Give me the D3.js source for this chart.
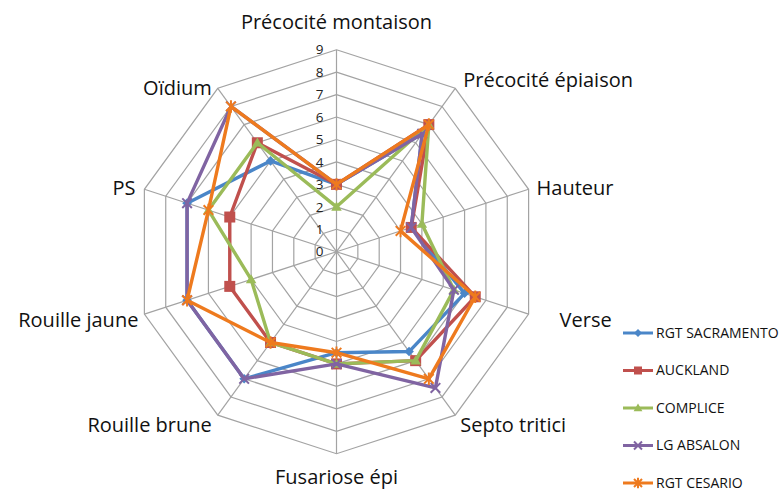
<!DOCTYPE html>
<html><head><meta charset="utf-8">
<script src="https://cdn.jsdelivr.net/npm/d3@7/dist/d3.min.js"></script>
<style>body{margin:0;background:#fff}svg{display:block}text{font-family:"Open Sans",sans-serif;fill:#111}</style>
</head><body><svg id="c" width="782" height="491"></svg>
<script>
const axesLabels = ["Précocité montaison","Précocité épiaison","Hauteur","Verse","Septo tritici","Fusariose épi","Rouille brune","Rouille jaune","PS","Oïdium"];
const seriesNames = ["RGT SACRAMENTO","AUCKLAND","COMPLICE","LG ABSALON","RGT CESARIO"];
const sacramento = [3, 6.5, 3.5, 6, 5.5, 4.5, 7, 7, 7, 5];
const auckland   = [3, 7, 3.5, 6.5, 6, 5, 5, 5, 5, 6];
const complice   = [2, 7, 4, 5.5, 6, 5, 5, 4, 6, 6];
const absalon    = [3, 6.5, 3.5, 5.5, 7.5, 5, 7, 7, 7, 8];
const cesario    = [3, 7, 3, 6.5, 7, 4.5, 5, 7, 6, 8];
const tickValues = [0,1,2,3,4,5,6,7,8,9];
const colors = ["#4A86C8","#C0504D","#9BBB59","#8064A2","#EE7A1E"];
const markerTypes = ["diamond","square","triangle","x","asterisk"];

const allSeries = [sacramento, auckland, complice, absalon, cesario];
const svg = d3.select("#c");
const cx = 336.5, cy = 251.7, R = 202;
const r = d3.scaleLinear().domain([0,9]).range([0,R]);
const n = axesLabels.length;
const ang = d3.scaleLinear().domain([0,n]).range([0,2*Math.PI]);
const pt = (i,v) => [cx + Math.sin(ang(i))*r(v), cy - Math.cos(ang(i))*r(v)];
// label nudges from the outer vertex (layout only)
const labelNudge = [[0,-28],[8,-8],[8,-1],[31,6],[5,10],[0,23],[-6,10],[-6,6],[-9,-1],[-6,0]];

const g = svg.append("g");
tickValues.filter(t=>t>0).forEach(t=>{
  g.append("path").attr("d", d3.line()(d3.range(n+1).map(i=>pt(i%n,t))))
    .attr("fill","none").attr("stroke","#a3a3a3").attr("stroke-width",1.2);
});
d3.range(n).forEach(i=>{
  const p = pt(i,9);
  g.append("line").attr("x1",cx).attr("y1",cy).attr("x2",p[0]).attr("y2",p[1])
   .attr("stroke","#a3a3a3").attr("stroke-width",1.2);
});
tickValues.forEach(t=>{
  g.append("text").attr("x",cx-13).attr("y",cy-r(t)).attr("dy","0.35em")
   .attr("text-anchor","end").attr("font-size",13.5).style("fill","#222").text(t);
});
axesLabels.forEach((lab,i)=>{
  const s = Math.sin(ang(i));
  const p = pt(i,9);
  const anchor = Math.abs(s) < 0.01 ? "middle" : (s>0 ? "start" : "end");
  g.append("text").attr("x",p[0]+labelNudge[i][0]).attr("y",p[1]+labelNudge[i][1]).attr("dy","0.35em")
   .attr("text-anchor",anchor).attr("font-size",20).text(lab);
});

function drawMarker(sel, type, color, size){
  const s = size;
  if (type==="diamond") sel.append("path").attr("d",`M0,${-s}L${s},0L0,${s}L${-s},0Z`).attr("fill",color);
  else if (type==="square") sel.append("rect").attr("x",-s).attr("y",-s).attr("width",2*s).attr("height",2*s).attr("fill",color);
  else if (type==="triangle") sel.append("path").attr("d",`M0,${-s*1.1}L${s*1.1},${s*0.8}L${-s*1.1},${s*0.8}Z`).attr("fill",color);
  else if (type==="x") sel.append("path").attr("d",`M${-s},${-s}L${s},${s}M${-s},${s}L${s},${-s}`).attr("stroke",color).attr("stroke-width",2);
  else sel.append("path").attr("d",`M${-s},${-s}L${s},${s}M${-s},${s}L${s},${-s}M0,${-s*1.3}L0,${s*1.3}`).attr("stroke",color).attr("stroke-width",2);
}

allSeries.forEach((vals,k)=>{
  const pts = vals.map((v,i)=>pt(i,v));
  g.append("path").attr("d", d3.line()(pts.concat([pts[0]])))
   .attr("fill","none").attr("stroke",colors[k]).attr("stroke-width",3.4).attr("stroke-linejoin","round");
  pts.forEach(p=>{
    const m = g.append("g").attr("transform",`translate(${p[0]},${p[1]})`);
    drawMarker(m, markerTypes[k], colors[k], markerTypes[k]==="square"?5.5:4.8);
  });
});

const leg = svg.append("g");
const ly = d3.scaleLinear().domain([0,4]).range([333,483]);
seriesNames.forEach((nm,k)=>{
  const y = ly(k);
  leg.append("line").attr("x1",623).attr("x2",653).attr("y1",y).attr("y2",y).attr("stroke",colors[k]).attr("stroke-width",3);
  const m = leg.append("g").attr("transform",`translate(638,${y})`);
  drawMarker(m, markerTypes[k], colors[k], 4);
  leg.append("text").attr("x",656).attr("y",y).attr("dy","0.35em").attr("font-size",14).text(nm);
});
</script></body></html>
